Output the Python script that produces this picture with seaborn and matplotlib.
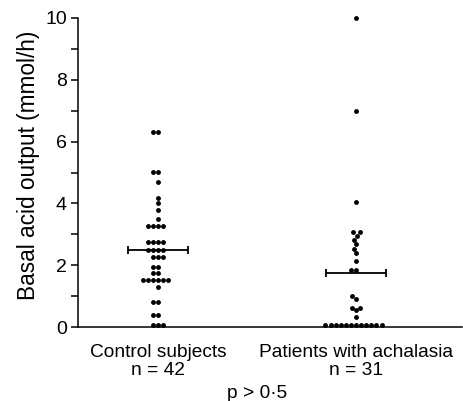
import matplotlib
matplotlib.use("Agg")
import matplotlib.pyplot as plt
import seaborn as sns
import pandas as pd

# ---- data ----
groups = ["Control subjects", "Patients with achalasia"]
group_n = ["n = 42", "n = 31"]
control = [6.3, 6.3, 5.03, 5.03, 4.7, 4.17, 4.0, 3.78, 3.5,
           3.26, 3.26, 3.26, 3.26, 2.76, 2.76, 2.76, 2.76,
           2.49, 2.49, 2.49, 2.49, 2.28, 2.28, 2.28,
           1.93, 1.93, 1.76, 1.76,
           1.52, 1.52, 1.52, 1.52, 1.52, 1.52, 1.3,
           0.82, 0.82, 0.39, 0.39, 0.05, 0.05, 0.05]
achalasia = [10.0, 7.0, 4.03, 3.06, 3.06, 2.95, 2.82, 2.68, 2.52, 2.38,
             2.12, 1.85, 1.85, 1.0, 0.9, 0.63, 0.63, 0.55, 0.32,
             0.05, 0.05, 0.05, 0.05, 0.05, 0.05, 0.05, 0.05, 0.05, 0.05,
             0.05, 0.05]
means = [2.48, 1.74]
y_ticks = [0, 2, 4, 6, 8, 10]
y_label = "Basal acid output (mmol/h)"
p_text = "p > 0\u00b75"

df = pd.DataFrame({
    "group": [groups[0]] * len(control) + [groups[1]] * len(achalasia),
    "value": control + achalasia,
})

sns.set_theme(style="ticks")
plt.rcParams["font.family"] = ["Liberation Sans", "DejaVu Sans"]

fig = plt.figure(figsize=(4.64, 4.01), dpi=100)
ax = fig.add_axes([78 / 464, 1 - 327 / 401, (462 - 78) / 464, (327 - 18) / 401])

sns.swarmplot(data=df, x="group", y="value", order=groups, color="black",
              size=3.5, linewidth=0, ax=ax, clip_on=False, zorder=3)

for i, m in enumerate(means):
    ax.errorbar([i], [m], xerr=0.15, fmt="none", ecolor="black",
                elinewidth=1.3, capsize=3.2, capthick=1.3, zorder=4)

ax.set_xlim(-0.404, 1.535)
ax.set_ylim(0, 10)
ax.set_yticks(y_ticks)
ax.set_yticks([1, 3, 5, 7, 9], minor=True)
ax.tick_params(axis="y", which="both", direction="out", length=5, width=1.1,
               color="black", labelsize=14, pad=3, labelcolor="black")
ax.tick_params(axis="x", length=0, pad=12, labelsize=13.8, labelcolor="black")
ax.set_xticks([0, 1])
ax.set_xticklabels([f"{g}\n{n}" for g, n in zip(groups, group_n)])
for lab in ax.get_xticklabels():
    lab.set_linespacing(1.1)

ax.set_xlabel("")
ax.set_ylabel(y_label, fontsize=16.3, color="black")
ax.yaxis.set_label_coords(-0.10, 0.524)
sns.despine(ax=ax)
for s in ["left", "bottom"]:
    ax.spines[s].set_linewidth(1.1)
    ax.spines[s].set_color("black")

fig.text(257 / 464, 1 - 393 / 401, p_text, ha="center", va="center",
         fontsize=13.8, color="black")

fig.savefig("out.png", dpi=100)
